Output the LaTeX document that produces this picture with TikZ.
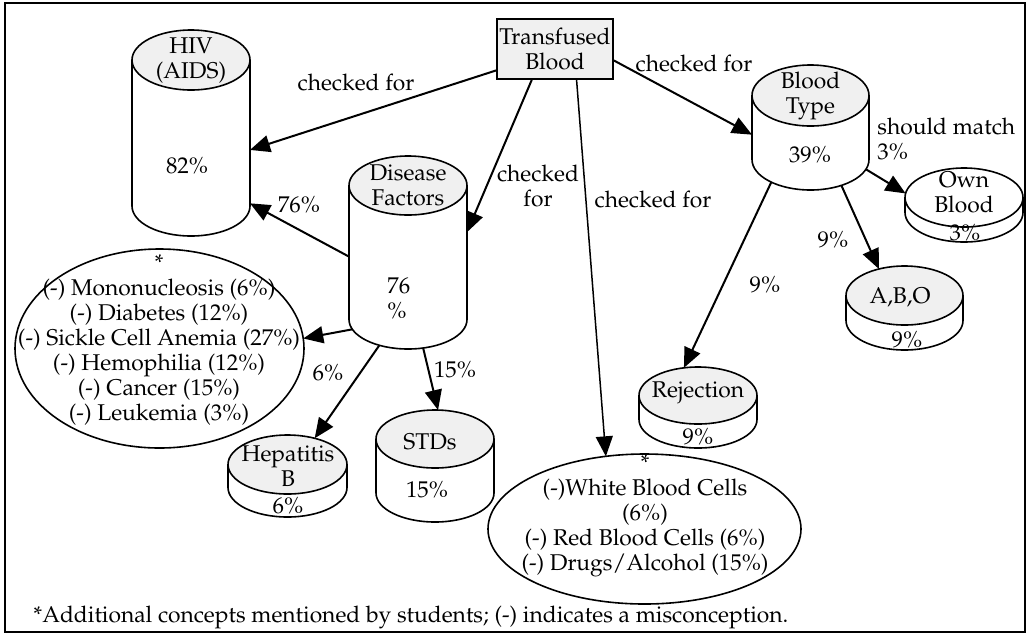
\documentclass[tikz,border=0pt]{standalone}
\usepackage[T1]{fontenc}
\usepackage{mathpazo}
\usepackage{tikz}
\usetikzlibrary{arrows.meta, shapes.geometric}

\definecolor{topgray}{HTML}{F0F0F0}

\tikzset{
  txt/.style={align=center, inner sep=0pt},
  drumtop/.style={ellipse, draw, line width=0.8pt, inner sep=0pt, outer sep=0pt},
  drumbody/.style={rectangle, inner sep=0pt, outer sep=0pt},
  drumbase/.style={ellipse, inner sep=0pt, outer sep=0pt},
  listbox/.style={ellipse, draw, line width=0.8pt, inner sep=0pt, outer sep=0pt},
  arr/.style={-{Triangle[length=10pt, width=8.5pt]}, line width=1pt},
  thinarr/.style={arr, line width=0.75pt},
}

% #1 name, #2 centre of the top, #3 width, #4 height of the top, #5 depth, #6 fill (all in px)
\newcommand{\drum}[6]{%
  \node[drumbody, minimum width=#3*0.5pt, minimum height=#5*0.5pt, anchor=north] (#1-body) at #2 {};
  \node[drumbase, minimum width=#3*0.5pt, minimum height=#4*0.5pt] (#1-base) at (#1-body.south) {};
  \draw[line width=0.8pt] (#1-body.north west) -- (#1-base.west)
    arc[start angle=180, end angle=360, x radius=#3*0.25pt, y radius=#4*0.25pt] -- (#1-body.north east);
  \node[drumtop, fill=#6, minimum width=#3*0.5pt, minimum height=#4*0.5pt] (#1) at #2 {};
}

\begin{document}
\begin{tikzpicture}[x=0.5pt, y=-0.5pt, font=\fontsize{11.4}{12.5}\selectfont]
    \useasboundingbox (0,0) rectangle (1028,634);
    \draw[line width=1pt] (5,3) rectangle (1025,632);

    % source
    \node[txt, draw, fill=topgray, line width=0.8pt, minimum width=58pt, minimum height=30pt] (tb) at (555,49) {Transfused\\Blood};

    % cylinders
    \drum{hiv}{(191,60)}{118}{60}{146}{topgray}
    \drum{df}{(408,185.5)}{118}{59}{134}{topgray}
    \drum{bt}{(810.5,95.5)}{117}{61}{64}{topgray}
    \drum{own}{(964,197.5)}{118}{59}{15}{white}
    \drum{abo}{(904.5,295.5)}{117}{59}{25}{topgray}
    \drum{rej}{(698,395.5)}{118}{57}{24}{topgray}
    \drum{hep}{(287.5,464.5)}{119}{59}{23}{topgray}
    \drum{stds}{(435,439)}{118}{58}{54}{topgray}

    \node[txt] (hiv-txt) at (191,60.5) {HIV\\(AIDS)};
    \node[txt] (hiv-pct) at (187,166) {82\%};
    \node[txt] (df-txt) at (408,185.5) {Disease\\Factors};
    \node[txt, align=left, anchor=west] (df-pct) at (387,298) {76\\\%};
    \node[txt] (bt-txt) at (810.5,96) {Blood\\Type};
    \node[txt] (bt-pct) at (810,155) {39\%};
    \node[txt] (own-txt) at (964,192) {Own\\Blood};
    \node[txt] (own-pct) at (965,233) {3\%};
    \node[txt] (abo-txt) at (900,297) {A,B,O};
    \node[txt] (abo-pct) at (907,340) {9\%};
    \node[txt] (rej-txt) at (698,393) {Rejection};
    \node[txt] (rej-pct) at (698,437) {9\%};
    \node[txt] (hep-txt) at (288,466.5) {Hepatitis\\B};
    \node[txt] (hep-pct) at (288,506) {6\%};
    \node[txt] (stds-txt) at (430,442) {STDs};
    \node[txt] (stds-pct) at (427,490) {15\%};

    % student lists
    \node[listbox, minimum width=144.5pt, minimum height=99.5pt] (ill) at (159.5,348.5) {};
    \node[txt] (ill-txt) at (159,340) {*\\(-) Mononucleosis (6\%)\\(-) Diabetes (12\%)\\(-) Sickle Cell Anemia (27\%)\\(-) Hemophilia (12\%)\\(-) Cancer (15\%)\\(-) Leukemia (3\%)};
    \node[listbox, minimum width=156.5pt, minimum height=75pt] (cells) at (644.5,529) {};
    \node[txt] (cells-txt) at (645,516) {*\\(-)White Blood Cells\\(6\%)\\(-) Red Blood Cells (6\%)\\(-) Drugs/Alcohol (15\%)};

    % links
    \draw[arr] (tb.200) -- (hiv-body.-16);
    \draw[arr] (tb.233) -- (df-body.19);
    \draw[thinarr] (tb.-55) -- (cells.118);
    \draw[arr] (tb.-11) -- (bt-body.187);
    \draw[arr] (df-body.184) -- (hiv-body.-50);
    \draw[arr] (df-base.190) -- (ill.4);
    \draw[arr] (df-base.222) -- (hep.44);
    \draw[arr] (df-base.-62) -- (stds.84);
    \draw[arr] (bt-base.-10) -- (own.176);
    \draw[arr] (bt-base.-40) -- (abo.134);
    \draw[arr] (bt-base.210) -- (rej.117);

    \node[txt] (la) at (356,82) {checked for};
    \node[txt] (lb) at (538,186) {checked\\for};
    \node[txt] (lc) at (653,199) {checked for};
    \node[txt] (ld) at (694,63) {checked for};
    \node[txt] (le) at (299,205) {76\%};
    \node[txt] (lg) at (328,373) {6\%};
    \node[txt] (lh) at (455,370) {15\%};
    \node[txt, align=left, anchor=west] (li) at (877,138.5) {should match\\3\%};
    \node[txt] (lj) at (833,240) {9\%};
    \node[txt] (lk) at (765,285) {9\%};

    \node[txt, anchor=west] (note) at (33,617) {*Additional concepts mentioned by students; (-) indicates a misconception.};
\end{tikzpicture}
\end{document}
